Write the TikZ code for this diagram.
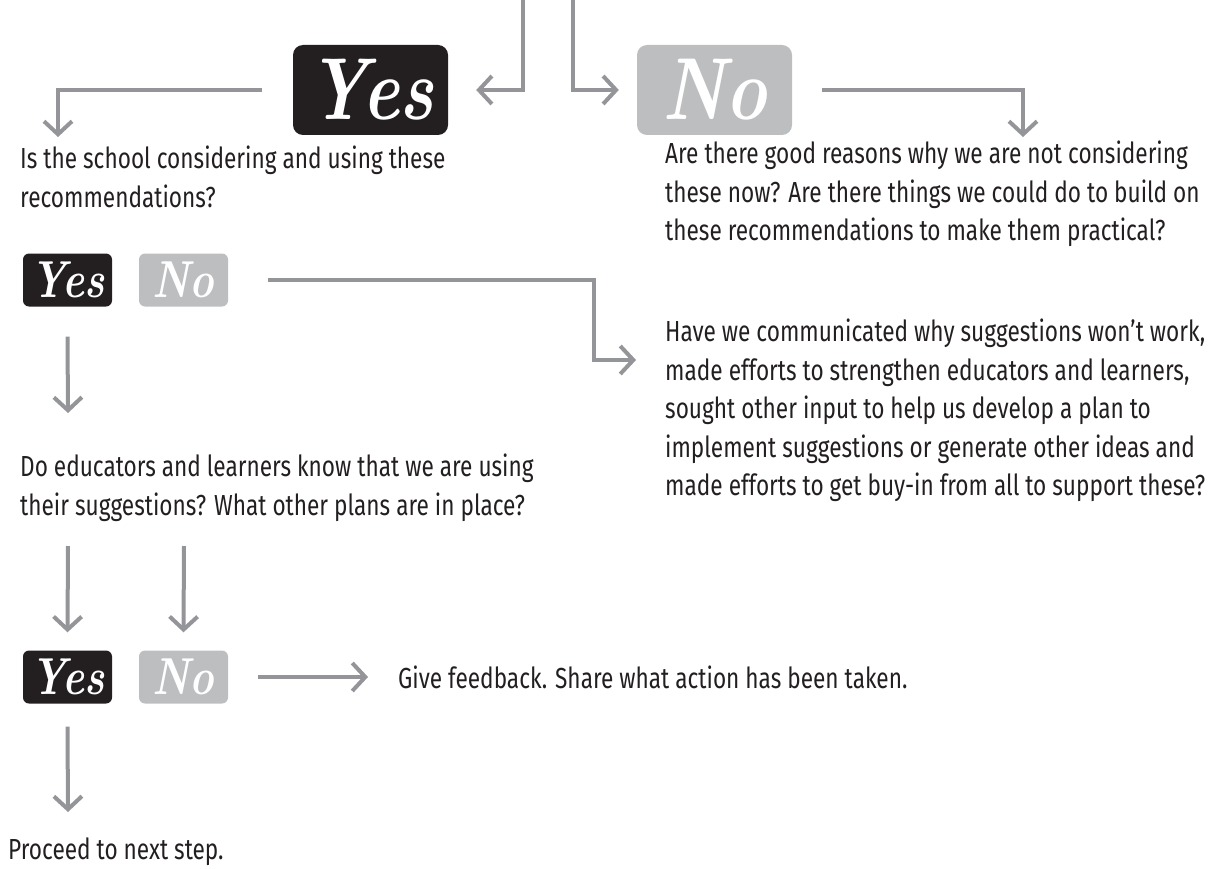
\documentclass[tikz,border=0pt]{standalone}
\usepackage{fontspec}
\setmainfont{Fira Sans}[FakeStretch=0.78]
\newfontfamily\yesnofont{Latin Modern Roman}[FakeStretch=0.8]
\usetikzlibrary{arrows.meta}
\definecolor{darkbox}{HTML}{231F20}
\definecolor{lightbox}{HTML}{BCBEC0}
\definecolor{linegray}{HTML}{939598}
\definecolor{textgray}{HTML}{231F20}
\begin{document}
\begin{tikzpicture}[x=1pt,y=-1pt]
        \tikzstyle{yesbox}=[fill=darkbox,rounded corners=10pt,text=white,inner sep=0pt,minimum width=155pt,minimum height=90pt,font=\yesnofont\bfseries\itshape\fontsize{88}{88}\selectfont]
        \tikzstyle{nobox}=[yesbox,fill=lightbox]
        \tikzstyle{smallyes}=[yesbox,rounded corners=6pt,minimum width=89pt,minimum height=53pt,font=\yesnofont\bfseries\itshape\fontsize{52}{52}\selectfont]
        \tikzstyle{smallno}=[smallyes,fill=lightbox]
        \tikzstyle{para}=[anchor=north west,inner sep=0pt,align=left,text=textgray,font=\fontsize{29}{38.5}\selectfont]
        \tikzstyle{edge}=[draw=linegray,line width=4pt,-{Straight Barb[length=13pt,width=28pt]}]
        \useasboundingbox (0,0) rectangle (1214,869);
       \begin{scope}
         \node [yesbox] (yes1) at (370.5,90) {Yes};
         \node [nobox] (no1) at (714.5,90) {No};
         \node [smallyes] (yes2) at (67.5,280) {Yes};
         \node [smallno] (no2) at (183.5,280) {No};
         \node [smallyes] (yes3) at (67.5,677) {Yes};
         \node [smallno] (no3) at (183.5,677) {No};

         \node [para] (q1) at (20,146) {Is the school considering and using these\\recommendations?};
         \node [para] (r1) at (665,141) {Are there good reasons why we are not considering\\these now? Are there things we could do to build on\\these recommendations to make them practical?};
         \node [para] (r2) at (665,319) {Have we communicated why suggestions won’t work,\\made efforts to strengthen educators and learners,\\sought other input to help us develop a plan to\\implement suggestions or generate other ideas and\\made efforts to get buy-in from all to support these?};
         \node [para] (q2) at (20,454) {Do educators and learners know that we are using\\their suggestions? What other plans are in place?};
         \node [para,anchor=west] (fb) at (398,677) {Give feedback. Share what action has been taken.};
         \node [para,anchor=west] (nx) at (8,852) {Proceed to next step.};

         \coordinate (in1) at (523,0);
         \coordinate (in2) at (573,0);
         \coordinate (d1) at (58,137);
         \coordinate (d2) at (1023,137);
         \coordinate (d3) at (636,360);
         \coordinate (d4) at (68,413);
         \coordinate (s1) at (68,546);
         \coordinate (s2) at (184,546);
         \coordinate (d5) at (68,812);

         \path[edge] (in1) |- ([xshift=28pt]yes1.east);
         \path[edge] (in2) |- ([xshift=-18pt]no1.west);
         \path[edge] ([xshift=-31pt]yes1.west) -| (d1);
         \path[edge] ([xshift=30pt]no1.east) -| (d2);
         \path[edge] ([xshift=40pt]no2.east) -- ++(326,0) |- (d3);
         \path[edge] ([yshift=-30pt]yes2.south) -- (d4);
         \path[edge] (s1) -- ([yshift=18pt]yes3.north);
         \path[edge] (s2) -- ([yshift=18pt]no3.north);
         \path[edge] ([xshift=30pt]no3.east) -- ([xshift=-30pt]fb.west);
         \path[edge] ([yshift=-23pt]yes3.south) -- (d5);
        \end{scope}
      \end{tikzpicture}
\end{document}
